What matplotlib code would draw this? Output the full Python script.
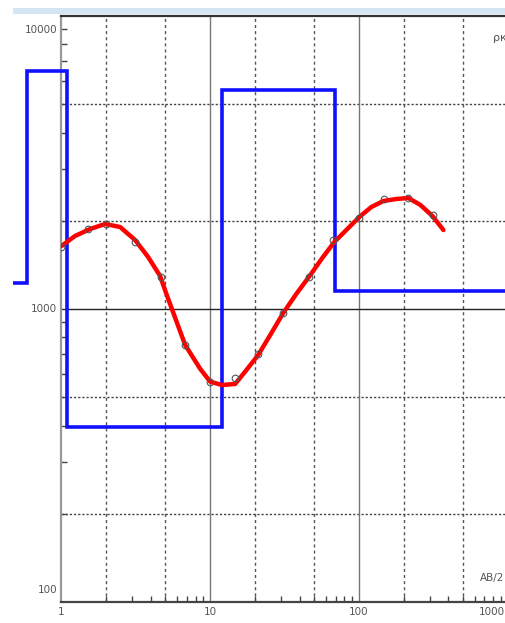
import numpy as np
import matplotlib
matplotlib.use('Agg')
import matplotlib.pyplot as plt
from matplotlib.patches import Rectangle
from matplotlib.ticker import NullFormatter, LogLocator

# ---- data ----
# layered model (blue step curve): layer boundaries (AB/2-like depth) and resistivities
model_edges = [0.47, 0.586, 1.097, 12.05, 69.5, 1000]
model_rho = [1227, 6486, 395, 5585, 1152]

# smooth calculated curve (red)
curve_ab = [1.0, 1.233, 1.556, 1.963, 2.477, 3.126, 3.824, 4.605, 5.133, 6.787,
            8.564, 10.0, 12.04, 14.74, 17.75, 21.05, 25.35, 31.01, 37.93, 47.15,
            56.78, 68.39, 83.68, 100.8, 121.4, 146.2, 178.9, 215.4, 259.4, 312.6, 370.7]
curve_rho = [1641, 1775, 1875, 1950, 1905, 1720, 1505, 1296, 1108, 754,
             625, 565, 550, 555, 624, 697, 815, 969, 1125, 1306,
             1493, 1693, 1875, 2061, 2229, 2337, 2374, 2393, 2265, 2077, 1860]

# field measurements (circles)
obs_ab = [1.0, 1.5, 2.0, 3.1, 4.7, 6.8, 10, 14.7, 21, 31, 46, 67, 100, 147, 215, 316]
obs_rho = [1628, 1875, 1950, 1693, 1286, 754, 563, 581, 702, 969, 1286, 1720, 2045,
           2374, 2393, 2094]

x_ticks = [1, 10, 100, 1000]
x_tick_labels = ['1', '10', '100', '1000']
y_ticks = [100, 1000, 10000]
y_tick_labels = ['100', '1000', '10000']
grid_x_dashed = [2, 5, 20, 50, 200, 500]
grid_y_dotted = [200, 500, 2000, 5000]

W, H = 506, 623
fig = plt.figure(figsize=(W / 100, H / 100), dpi=100)
fig.patch.set_facecolor('white')

# light blue header band
fig.patches.append(Rectangle((13 / W, 1 - 14 / H), 1 - 13 / W, 6 / H,
                             transform=fig.transFigure, facecolor='#d6e5f3',
                             edgecolor='none'))

ax = fig.add_axes([61.5 / W, 1 - 602 / H, (507.5 - 61.5) / W, (602 - 16) / H])
ax.set_xscale('log')
ax.set_yscale('log')
ax.set_xlim(1, 1000)
ax.set_ylim(100, 10000)

# grid
for gx in grid_x_dashed:
    ax.axvline(gx, color='#555555', lw=1.0, ls=(0, (2.2, 2.2)), zorder=1)
for gy in grid_y_dotted:
    ax.axhline(gy, color='#444444', lw=1.0, ls=(0, (1.6, 1.4)), zorder=1)
for gx in x_ticks[1:3]:
    ax.axvline(gx, color='#777777', lw=1.0, zorder=1)
ax.axhline(1000, color='#222222', lw=1.0, zorder=1)

# blue model
st = ax.stairs(model_rho, model_edges, baseline=None, color='#1010ff', lw=2.6,
               zorder=3)
st.set_clip_on(False)

# red curve
ax.plot(curve_ab, curve_rho, color='#ff0000', lw=3.2, solid_capstyle='round',
        solid_joinstyle='round', zorder=4)
# observed points
ax.plot(obs_ab, obs_rho, 'o', ms=4.8, mfc='none', mec='#555555', mew=0.8, zorder=5)

# spines
ax.spines['right'].set_visible(False)
ax.spines['left'].set_color('#999999')
ax.spines['left'].set_linewidth(1.6)
ax.spines['top'].set_color('#333333')
ax.spines['top'].set_linewidth(1.6)
ax.spines['bottom'].set_color('#444444')
ax.spines['bottom'].set_linewidth(1.6)

# ticks
ax.set_xticks(x_ticks)
ax.set_xticklabels([])
ax.xaxis.set_minor_locator(LogLocator(base=10, subs=np.arange(2, 10)))
ax.xaxis.set_minor_formatter(NullFormatter())
ax.yaxis.set_minor_locator(LogLocator(base=10, subs=np.arange(2, 10)))
ax.yaxis.set_minor_formatter(NullFormatter())
ax.set_yticks(y_ticks)
ax.set_yticklabels([])
ax.tick_params(axis='both', which='major', direction='in', length=0)
ax.tick_params(axis='both', which='minor', direction='in', length=4,
               width=1.0, color='#444444')

# x labels
for val, txt in zip(x_ticks, x_tick_labels):
    ha = 'right' if val == 1000 else 'center'
    dx = -2 if val == 1000 else 0
    ax.annotate(txt, xy=(val, 0), xycoords=('data', 'axes fraction'),
                xytext=(dx, -7.5), textcoords='offset points',
                ha=ha, va='center', fontsize=7.5, color='#555555',
                annotation_clip=False)

# y labels (offsets as in the original)
y_offsets = {100: 8.5, 1000: 0, 10000: -10}
for val, txt in zip(y_ticks, y_tick_labels):
    ax.annotate(txt, xy=(0, val), xycoords=('axes fraction', 'data'),
                xytext=(-3, y_offsets[val]), textcoords='offset points',
                ha='right', va='center', fontsize=7.5, color='#555555')

# axis captions at the right edge
fig.text(493 / W, 1 - 38 / H, 'ρк', fontsize=8, color='#555555', va='center',
         ha='left')
fig.text(504 / W, 1 - 578 / H, 'AB/2', fontsize=7.5, color='#555555',
         va='center', ha='right')

fig.savefig('out.png', dpi=100)
